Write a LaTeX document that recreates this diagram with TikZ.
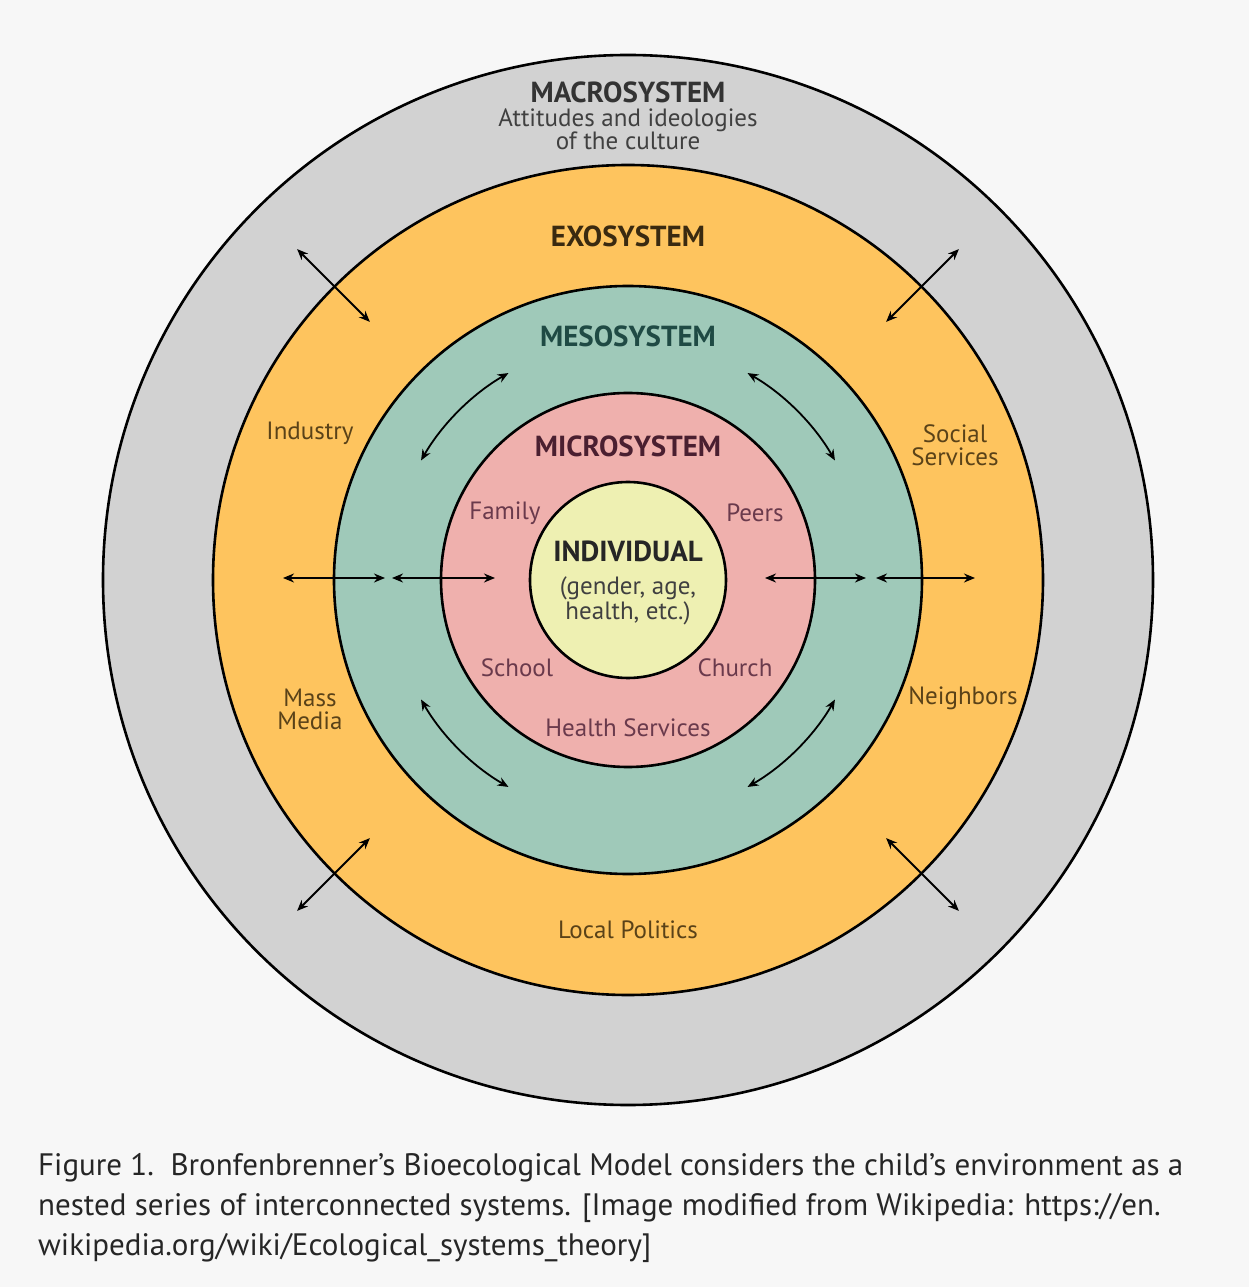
\documentclass[tikz,border=0pt]{standalone}
\usepackage{fontspec}
\setmainfont{PT Sans}
\usetikzlibrary{arrows.meta}
\definecolor{bgc}{HTML}{F7F7F7}
\definecolor{macroc}{HTML}{D2D2D2}
\definecolor{exoc}{HTML}{FEC45E}
\definecolor{mesoc}{HTML}{9FC9B9}
\definecolor{microc}{HTML}{EFB0AD}
\definecolor{indc}{HTML}{EEF0B2}
\definecolor{exotext}{HTML}{3A2A10}
\definecolor{mesotext}{HTML}{1F4A44}
\definecolor{microtext}{HTML}{4A1F30}
\definecolor{labbrown}{HTML}{5A4218}
\definecolor{labmicro}{HTML}{6A3A4C}
\begin{document}
\begin{tikzpicture}[x=1pt,y=1pt,
  ring/.style={circle,draw=black,line width=2.6pt,inner sep=0pt},
  title/.style={font=\fontsize{29}{30}\selectfont\bfseries,inner sep=0pt},
  lab/.style={font=\fontsize{25}{23}\selectfont,align=center,text=labbrown,inner sep=0pt},
  mlab/.style={font=\fontsize{25}{23}\selectfont,align=center,text=labmicro,inner sep=0pt},
  dbl/.style={line width=1.8pt,{Stealth[length=11pt,width=9pt]}-{Stealth[length=11pt,width=9pt]}},
  captext/.style={font=\fontsize{31}{33}\selectfont,text=black!85,anchor=base west,inner sep=0pt}]
\useasboundingbox[fill=bgc] (-628,-707) rectangle (621,580);
\node[ring,fill=macroc,minimum size=1050pt] (macro) at (0,0) {};
\node[ring,fill=exoc,minimum size=830pt] (exo) at (0,0) {};
\node[ring,fill=mesoc,minimum size=588pt] (meso) at (0,0) {};
\node[ring,fill=microc,minimum size=374pt] (micro) at (0,0) {};
\node[ring,fill=indc,minimum size=196pt] (ind) at (0,0) {};
% titles
\node[title,text=black!80] (tmacro) at (0,488) {MACROSYSTEM};
\node[font=\fontsize{25}{23}\selectfont,text=black!75,align=center,inner sep=0pt] (tmacro2) at (0,451) {Attitudes and ideologies\\of the culture};
\node[title,text=exotext] (texo) at (0,344) {EXOSYSTEM};
\node[title,text=mesotext] (tmeso) at (0,244) {MESOSYSTEM};
\node[title,text=microtext] (tmicro) at (0,134) {MICROSYSTEM};
\node[title,text=black!85] (tind) at (0,29) {INDIVIDUAL};
\node[font=\fontsize{25}{21}\selectfont,text=black!75,align=center,inner sep=0pt] (tind2) at (0,-21) {(gender, age,\\health, etc.)};
% microsystem labels
\node[mlab] (family) at (-123,67) {Family};
\node[mlab] (peers) at (127,67) {Peers};
\node[mlab] (school) at (-111,-88) {School};
\node[mlab] (church) at (107,-88) {Church};
\node[mlab] (health) at (0,-148) {Health Services};
% exosystem labels
\node[lab] (industry) at (-318,147) {Industry};
\node[lab] (social) at (327,135) {Social\\Services};
\node[lab] (media) at (-318,-129) {Mass\\Media};
\node[lab] (neigh) at (335,-118) {Neighbors};
\node[lab] (politics) at (0,-350) {Local Politics};
% horizontal arrows
\coordinate (hl1) at (-345,2); \coordinate (hl2) at (-243,2);
\coordinate (hl3) at (-236,2); \coordinate (hl4) at (-133,2);
\coordinate (hr1) at (137,2); \coordinate (hr2) at (238,2);
\coordinate (hr3) at (248,2); \coordinate (hr4) at (347,2);
\draw[dbl] (hl1) -- (hl2);
\draw[dbl] (hl3) -- (hl4);
\draw[dbl] (hr1) -- (hr2);
\draw[dbl] (hr3) -- (hr4);
% diagonal arrows
\foreach \a/\n in {45/ne,135/nw,225/sw,315/se}{
  \coordinate (d\n1) at (\a:365);
  \coordinate (d\n2) at (\a:468);
  \draw[dbl] (d\n1) -- (d\n2);
}
% curved arrows in mesosystem
\foreach \s/\e in {120/150,30/60,210/240,300/330}{
  \draw[dbl] (\s:239) arc[start angle=\s,end angle=\e,radius=239pt];
}
% caption
\node[captext] (cap1) at (-590,-595) {Figure 1.\ \ Bronfenbrenner's Bioecological Model considers the child's environment as a};
\node[captext] (cap2) at (-590,-635) {nested series of interconnected systems. [Image modified from Wikipedia: https://en.};
\node[captext] (cap3) at (-590,-675) {wikipedia.org/wiki/Ecological\_systems\_theory]};
\end{tikzpicture}
\end{document}
